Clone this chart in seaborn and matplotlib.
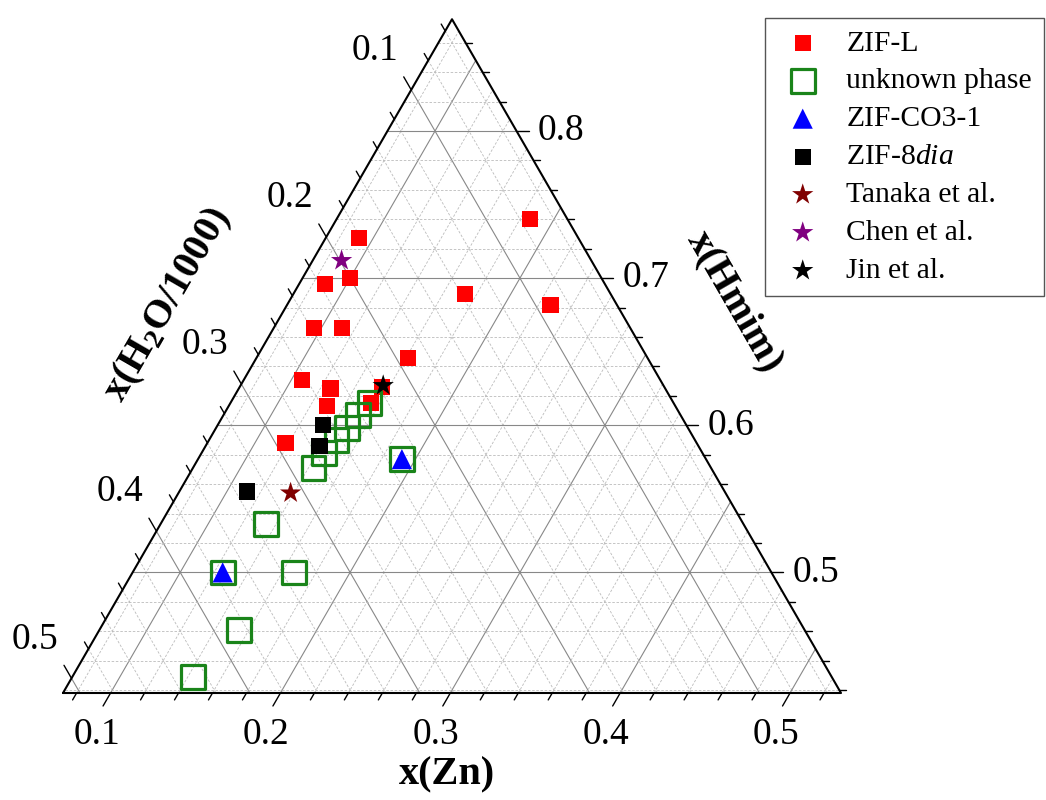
import numpy as np
import pandas as pd
import matplotlib
matplotlib.use("Agg")
import matplotlib.pyplot as plt
import seaborn as sns

# compositions (mole fractions)
zifl_zn = [0.092, 0.186, 0.087, 0.100, 0.173, 0.227, 0.096, 0.112, 0.161, 0.106, 0.126, 0.130, 0.155, 0.156, 0.118]
zifl_h2o = [0.181, 0.074, 0.217, 0.200, 0.138, 0.091, 0.238, 0.222, 0.193, 0.263, 0.249, 0.257, 0.230, 0.218, 0.294]
zifl_hmim = [0.727, 0.740, 0.696, 0.700, 0.689, 0.682, 0.666, 0.666, 0.646, 0.631, 0.625, 0.613, 0.615, 0.626, 0.588]

unk_zn = [0.154, 0.151, 0.149, 0.147, 0.144, 0.143, 0.192, 0.134, 0.125, 0.167, 0.154, 0.143]
unk_h2o = [0.231, 0.242, 0.253, 0.263, 0.275, 0.286, 0.231, 0.333, 0.375, 0.333, 0.385, 0.428]
unk_hmim = [0.615, 0.607, 0.598, 0.590, 0.581, 0.571, 0.577, 0.533, 0.500, 0.500, 0.461, 0.429]

co3_zn = [0.192, 0.125]
co3_h2o = [0.231, 0.375]
co3_hmim = [0.577, 0.500]

dia_zn = [0.134, 0.139, 0.112]
dia_h2o = [0.266, 0.275, 0.333]
dia_hmim = [0.600, 0.586, 0.555]

tanaka_zn = [0.138]
tanaka_h2o = [0.308]
tanaka_hmim = [0.554]

chen_zn = [0.089]
chen_h2o = [0.199]
chen_hmim = [0.712]

jin_zn = [0.156]
jin_h2o = [0.217]
jin_hmim = [0.627]

# visible part of the ternary (zoomed triangle)
ZN_MIN, H2O_MIN, HMIM_MIN = 0.072, 0.052, 0.418
SPAN = 1 - ZN_MIN - H2O_MIN - HMIM_MIN
R3 = np.sqrt(3) / 2


def tern(zn, hmim):
    a = (np.asarray(zn) - ZN_MIN) / SPAN
    c = (np.asarray(hmim) - HMIM_MIN) / SPAN
    return a + 0.5 * c, c * R3


def frame(zn, h2o, hmim):
    zn, h2o, hmim = map(np.asarray, (zn, h2o, hmim))
    s = zn + h2o + hmim
    x, y = tern(zn / s, hmim / s)
    return pd.DataFrame({"x": x, "y": y})


sns.set_theme(style="white")
plt.rcParams["font.family"] = ["Liberation Serif", "DejaVu Serif"]
plt.rcParams["text.color"] = "black"
plt.rcParams["mathtext.fontset"] = "custom"
plt.rcParams["mathtext.rm"] = "Liberation Serif"
plt.rcParams["mathtext.it"] = "Liberation Serif:italic"
plt.rcParams["mathtext.bf"] = "Liberation Serif:bold"

fig = plt.figure(figsize=(10.46, 8), dpi=100)
ax = fig.add_axes([0, 0, 1, 1])
px = 1 / 778
ax.set_xlim(-63 * px, (1046 - 63) * px)
ax.set_ylim(-(800 - 693) * px, 693 * px)
ax.axis("off")

# grid
vals = np.round(np.arange(0.02, 1.0, 0.02), 2)
for v in vals:
    major = abs(v * 10 - round(v * 10)) < 1e-6
    kw = dict(color="#888888", lw=0.8, ls="-") if major else dict(color="#bbbbbb", lw=0.6, ls=(0, (3, 2)))
    # Hmim constant
    if HMIM_MIN < v < 1 - ZN_MIN - H2O_MIN:
        x, y = tern([ZN_MIN, 1 - H2O_MIN - v], [v, v])
        ax.plot(x, y, zorder=1, **kw)
    # Zn constant
    if ZN_MIN < v < 1 - H2O_MIN - HMIM_MIN:
        x, y = tern([v, v], [HMIM_MIN, 1 - H2O_MIN - v])
        ax.plot(x, y, zorder=1, **kw)
    # H2O constant
    if H2O_MIN < v < 1 - ZN_MIN - HMIM_MIN:
        x, y = tern([ZN_MIN, 1 - v - HMIM_MIN], [1 - v - ZN_MIN, HMIM_MIN])
        ax.plot(x, y, zorder=1, **kw)

# triangle outline
tx, ty = tern([ZN_MIN, ZN_MIN + SPAN, ZN_MIN, ZN_MIN], [HMIM_MIN, HMIM_MIN, HMIM_MIN + SPAN, HMIM_MIN])
ax.plot(tx, ty, color="black", lw=1.5, zorder=2)

# ticks and tick labels
tick_vals = np.round(np.arange(0.0, 1.0, 0.02), 2)
lab_kw = dict(fontsize=27, color="black")
for v in tick_vals:
    major = abs(v * 10 - round(v * 10)) < 1e-6
    ln = 15 * px if major else 8 * px
    if ZN_MIN <= v <= ZN_MIN + SPAN:
        x0, y0 = tern(v, HMIM_MIN)
        ax.plot([x0, x0 - 0.5 * ln], [y0, y0 - R3 * ln], color="black", lw=1, zorder=2)
        if major:
            ax.text(x0 - 14 * px, y0 - 42 * px, f"{v:.1f}", ha="center", va="center", **lab_kw)
    if H2O_MIN <= v <= H2O_MIN + SPAN:
        x0, y0 = tern(ZN_MIN, 1 - v - ZN_MIN)
        ax.plot([x0, x0 - 0.5 * ln], [y0, y0 + R3 * ln], color="black", lw=1, zorder=2)
        if major:
            ax.text(x0 - 36 * px, y0 + 39 * px, f"{v:.1f}", ha="center", va="center", **lab_kw)
    if HMIM_MIN <= v <= HMIM_MIN + SPAN:
        x0, y0 = tern(1 - H2O_MIN - v, v)
        ax.plot([x0, x0 + ln * 0.8], [y0, y0], color="black", lw=1, zorder=2)
        if major:
            ax.text(x0 + 21 * px, y0, f"{v:.1f}", ha="left", va="center", **lab_kw)

# axis titles
ax.text((447 - 63) * px, (693 - 775) * px, "x(Zn)", ha="center", va="center",
        fontsize=29, fontweight="bold", color="black")
ax.text((168 - 63) * px, (693 - 305) * px, r"x(H$_\mathbf{2}$O/1000)", ha="center", va="center",
        fontsize=29, fontweight="bold", rotation=60, color="black")
ax.text((735 - 63) * px, (693 - 302) * px, "x(Hmim)", ha="center", va="center",
        fontsize=29, fontweight="bold", rotation=-60, color="black")

# data
sns.scatterplot(data=frame(zifl_zn, zifl_h2o, zifl_hmim), x="x", y="y", ax=ax, marker="s",
                color="#ff0000", s=135, edgecolor="none", label="ZIF-L", zorder=3)
sns.scatterplot(data=frame(unk_zn, unk_h2o, unk_hmim), x="x", y="y", ax=ax, marker="s",
                color="#1a841a", facecolors="none", edgecolor="#1a841a", linewidth=2.3, s=290,
                label="unknown phase", zorder=4)
sns.scatterplot(data=frame(co3_zn, co3_h2o, co3_hmim), x="x", y="y", ax=ax, marker="^",
                color="#0000ff", s=210, edgecolor="none", label="ZIF-CO3-1", zorder=5)
sns.scatterplot(data=frame(dia_zn, dia_h2o, dia_hmim), x="x", y="y", ax=ax, marker="s",
                color="black", s=135, edgecolor="none", label=r"ZIF-8$\mathit{dia}$", zorder=5)
sns.scatterplot(data=frame(tanaka_zn, tanaka_h2o, tanaka_hmim), x="x", y="y", ax=ax, marker="*",
                color="#800000", s=260, edgecolor="none", label="Tanaka et al.", zorder=6)
sns.scatterplot(data=frame(chen_zn, chen_h2o, chen_hmim), x="x", y="y", ax=ax, marker="*",
                color="#800080", s=260, edgecolor="none", label="Chen et al.", zorder=6)
sns.scatterplot(data=frame(jin_zn, jin_h2o, jin_hmim), x="x", y="y", ax=ax, marker="*",
                color="black", s=260, edgecolor="none", label="Jin et al.", zorder=6)

leg = ax.legend(loc="upper left", bbox_to_anchor=(765 / 1046, 1 - 18 / 800),
                bbox_transform=fig.transFigure, borderaxespad=0, fontsize=21.3,
                frameon=True, fancybox=False, framealpha=1, edgecolor="#555555",
                handlelength=1.75, handletextpad=0.6, labelspacing=0.38,
                borderpad=0.4, scatterpoints=1, labelcolor="black")
leg.get_frame().set_linewidth(1.0)

fig.savefig("out.png", dpi=100)
